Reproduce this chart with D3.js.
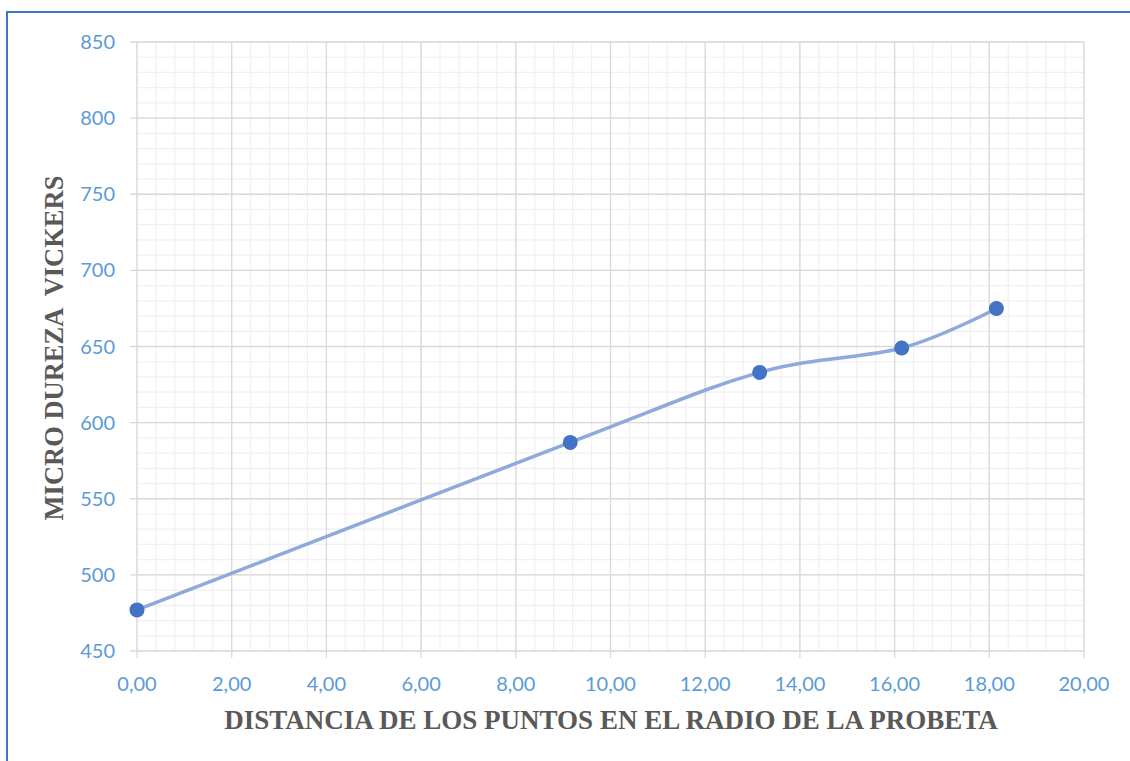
<!DOCTYPE html>
<html><head><meta charset="utf-8">
<script src="https://cdn.jsdelivr.net/npm/d3@7"></script>
<style>body{margin:0;background:#fff}svg{display:block}</style>
</head><body><svg id="c" width="1130" height="761"></svg>
<script>
const xValues = [0, 9.15, 13.15, 16.15, 18.15];
const yValues = [477, 587, 633, 649, 675];
const xTicks = [0, 2, 4, 6, 8, 10, 12, 14, 16, 18, 20];
const yTicks = [450, 500, 550, 600, 650, 700, 750, 800, 850];
const xTitle = "DISTANCIA DE LOS PUNTOS EN EL RADIO DE LA PROBETA";
const yTitle = "MICRO DUREZA  VICKERS";

const svg = d3.select("#c");
const W = 1130, H = 761;
const m = {l:137, r:1084, t:42, b:651};
const x = d3.scaleLinear().domain([0,20]).range([m.l, m.r]);
const y = d3.scaleLinear().domain([450,850]).range([m.b, m.t]);

svg.append("rect").attr("x",7).attr("y",12).attr("width",W-6).attr("height",H-10)
  .attr("fill","#fff").attr("stroke","#4472C4").attr("stroke-width",2);

const g = svg.append("g");
const xMinor = d3.range(0, 20.001, 0.4);
const yMinor = d3.range(450, 850.001, 10);
g.selectAll(".xm").data(xMinor).join("line")
  .attr("x1",d=>x(d)).attr("x2",d=>x(d)).attr("y1",m.t).attr("y2",m.b)
  .attr("stroke","#f0f0f0").attr("stroke-width",1.2);
g.selectAll(".ym").data(yMinor).join("line")
  .attr("y1",d=>y(d)).attr("y2",d=>y(d)).attr("x1",m.l).attr("x2",m.r)
  .attr("stroke","#f0f0f0").attr("stroke-width",1.2);
g.selectAll(".xM").data(xTicks).join("line")
  .attr("x1",d=>x(d)).attr("x2",d=>x(d)).attr("y1",m.t).attr("y2",m.b+7)
  .attr("stroke","#d9d9d9").attr("stroke-width",1.3);
g.selectAll(".yM").data(yTicks).join("line")
  .attr("y1",d=>y(d)).attr("y2",d=>y(d)).attr("x1",m.l-7).attr("x2",m.r)
  .attr("stroke","#d9d9d9").attr("stroke-width",1.3);

const lblColor = "#5B9BD5";
const fmt = d => d.toFixed(2).replace(".", ",");
g.selectAll(".xl").data(xTicks).join("text")
  .attr("x",d=>x(d)).attr("y",691).attr("text-anchor","middle")
  .attr("font-family","Lato, 'Open Sans', sans-serif").attr("font-size",20)
  .attr("fill",lblColor).text(fmt);
g.selectAll(".yl").data(yTicks).join("text")
  .attr("x",115).attr("y",d=>y(d)+7).attr("text-anchor","end")
  .attr("font-family","Lato, 'Open Sans', sans-serif").attr("font-size",20)
  .attr("fill",lblColor).text(d=>d);

svg.append("text").attr("x",611).attr("y",729).attr("text-anchor","middle")
  .attr("font-family","'Liberation Serif', 'Times New Roman', serif").attr("font-weight","bold")
  .attr("font-size",27).attr("fill","#595959").text(xTitle);
svg.append("text").attr("transform","translate(63,348) rotate(-90)").attr("text-anchor","middle")
  .attr("font-family","'Liberation Serif', 'Times New Roman', serif").attr("font-weight","bold")
  .attr("font-size",26.5).attr("fill","#595959").style("white-space","pre").text(yTitle);

const pts = xValues.map((v,i)=>[v, yValues[i]]);
const line = d3.line().x(d=>x(d[0])).y(d=>y(d[1])).curve(d3.curveCatmullRom.alpha(0));
svg.append("path").attr("d", line(pts)).attr("fill","none")
  .attr("stroke","#8EA9DB").attr("stroke-width",3.5).attr("stroke-linecap","round");
svg.selectAll(".pt").data(pts).join("circle")
  .attr("cx",d=>x(d[0])).attr("cy",d=>y(d[1])).attr("r",7.5).attr("fill","#4472C4");
</script></body></html>
